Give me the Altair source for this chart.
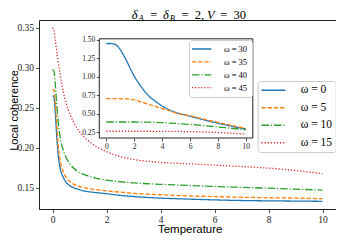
import altair as alt
import pandas as pd

# ---------------- data ----------------
T_MAIN = [0.0, 0.05, 0.1, 0.15, 0.2, 0.3, 0.4, 0.5, 0.6, 0.75, 1.0, 1.25, 1.5,
          1.75, 2.0, 2.5, 3.0, 4.0, 5.0, 6.0, 7.0, 8.0, 9.0, 10.0]
COH_W0 = [0.2645, 0.2645, 0.245, 0.218, 0.195, 0.172, 0.163, 0.157, 0.1535, 0.1505,
          0.1475, 0.1455, 0.1443, 0.1434, 0.1425, 0.1405, 0.139, 0.137, 0.1358,
          0.1348, 0.134, 0.1336, 0.1333, 0.133]
COH_W5 = [0.2725, 0.2725, 0.256, 0.233, 0.207, 0.181, 0.170, 0.163, 0.159, 0.155,
          0.1515, 0.1495, 0.148, 0.147, 0.146, 0.1445, 0.143, 0.1412, 0.1398,
          0.1389, 0.1381, 0.1375, 0.137, 0.1363]
COH_W10 = [0.297, 0.297, 0.280, 0.258, 0.236, 0.210, 0.197, 0.188, 0.182, 0.1755,
           0.169, 0.1655, 0.163, 0.1608, 0.1595, 0.1575, 0.156, 0.1543, 0.1528,
           0.1516, 0.1505, 0.1494, 0.1482, 0.147]
COH_W15 = [0.350, 0.347, 0.335, 0.323, 0.310, 0.288, 0.270, 0.256, 0.246, 0.234,
           0.220, 0.211, 0.204, 0.199, 0.195, 0.189, 0.1853, 0.1818, 0.180,
           0.1782, 0.1765, 0.1745, 0.1715, 0.1675]

T_INSET = [0.0, 0.25, 0.5, 0.75, 1.0, 1.25, 1.5, 1.75, 2.0, 2.5, 3.0, 3.5, 4.0,
           4.5, 5.0, 6.0, 7.0, 8.0, 9.0, 10.0]
COH_W30 = [1.452, 1.452, 1.448, 1.425, 1.37, 1.29, 1.20, 1.10, 1.01, 0.866, 0.748,
           0.671, 0.603, 0.553, 0.515, 0.466, 0.416, 0.370, 0.328, 0.290]
COH_W35 = [0.703, 0.703, 0.703, 0.703, 0.702, 0.701, 0.699, 0.695, 0.687, 0.660,
           0.627, 0.600, 0.567, 0.540, 0.510, 0.470, 0.425, 0.381, 0.339, 0.299]
COH_W40 = [0.386, 0.386, 0.386, 0.386, 0.386, 0.386, 0.386, 0.386, 0.386, 0.385,
           0.385, 0.383, 0.378, 0.372, 0.366, 0.354, 0.337, 0.318, 0.300, 0.281]
COH_W45 = [0.261, 0.261, 0.261, 0.261, 0.261, 0.261, 0.261, 0.261, 0.261, 0.261,
           0.261, 0.260, 0.260, 0.260, 0.259, 0.256, 0.251, 0.244, 0.234, 0.222]

MAIN_LABELS = ["ω = 0", "ω = 5", "ω = 10", "ω = 15"]
INSET_LABELS = ["ω = 30", "ω = 35", "ω = 40", "ω = 45"]
X_TICKS = [0, 2, 4, 6, 8, 10]
Y_TICKS_MAIN = [0.15, 0.20, 0.25, 0.30, 0.35]
Y_TICKS_INSET = [0.25, 0.50, 0.75, 1.00, 1.25, 1.50]

COLORS = ["#1f77b4", "#ff7f0e", "#2ca02c", "#d62728"]
DASHES = [[1, 0], [4.3, 1.9], [7.5, 1.9, 1.2, 1.9], [1.2, 1.9]]


def long_table(t, series, labels):
    rows = []
    for lab, vals in zip(labels, series):
        for tt, v in zip(t, vals):
            rows.append({"T": tt, "C": v, "w": lab})
    return pd.DataFrame(rows)


df_main = long_table(T_MAIN, [COH_W0, COH_W5, COH_W10, COH_W15], MAIN_LABELS)
df_inset = long_table(T_INSET, [COH_W30, COH_W35, COH_W40, COH_W45], INSET_LABELS)

# ---------------- layout ----------------
W, H = 297, 189
SERIF = "Liberation Serif"
SANS = "Liberation Sans"
INK = "#222222"

# inset geometry (pixels inside the plot area)
IX0, IX1 = 60.3, 213.8
IY_BOT, IY_TOP = 118.0, 18.8

main_legend = alt.Legend(
    title=None, orient="none", legendX=218.7, legendY=61,
    fillColor="white", strokeColor="#cccccc", cornerRadius=3, padding=3.5,
    labelFont=SERIF, labelFontSize=11.5, labelColor="black",
    symbolType="M-2.667,0L2.667,0", symbolSize=81, symbolStrokeWidth=1.4,
    symbolOffset=6.5, labelOffset=21.5, rowPadding=4.5,
)
inset_legend = alt.Legend(
    title=None, orient="none", legendX=150, legendY=20,
    fillColor="white", strokeColor="#cccccc", cornerRadius=3, padding=4.5,
    labelFont=SERIF, labelFontSize=8.5, labelColor="black",
    symbolType="M-2.757,0L2.757,0", symbolSize=49, symbolStrokeWidth=1.3,
    symbolOffset=3.65, labelOffset=17.8, rowPadding=3.9,
)

main = alt.Chart(df_main).mark_line(strokeWidth=1.3, interpolate="monotone").encode(
    x=alt.X("T:Q",
            scale=alt.Scale(domain=[-0.5, 10.5], nice=False, zero=False),
            axis=alt.Axis(values=X_TICKS, format="d", domain=False, grid=False,
                          labelFont=SERIF, labelFontSize=9.5, labelColor=INK,
                          tickColor=INK, tickSize=3.5, tickWidth=0.8, labelPadding=1.5,
                          title="Temperature", titleFont=SANS, titleFontSize=11.5,
                          titleFontWeight="normal", titleColor="black",
                          titleX=150.7, titleY=23.5, titleAlign="center",
                          titleBaseline="alphabetic")),
    y=alt.Y("C:Q",
            scale=alt.Scale(domain=[0.1234, 0.3596], nice=False, zero=False),
            axis=alt.Axis(values=Y_TICKS_MAIN, format=".2f", domain=False, grid=False,
                          labelFont=SERIF, labelFontSize=9.5, labelColor=INK,
                          tickColor=INK, tickSize=3.5, tickWidth=0.8, labelPadding=2,
                          title="Local coherence", titleFont=SANS, titleFontSize=11,
                          titleFontWeight="normal", titleColor="black",
                          titleX=-22, titleY=90, titleAlign="center",
                          titleBaseline="alphabetic")),
    color=alt.Color("w:N", scale=alt.Scale(domain=MAIN_LABELS, range=COLORS),
                    legend=main_legend),
    strokeDash=alt.StrokeDash("w:N", scale=alt.Scale(domain=MAIN_LABELS, range=DASHES),
                              legend=main_legend),
)

inset_box = alt.Chart(alt.Data(values=[{"a": 1}])).mark_rect(
    fill="white", stroke=INK, strokeWidth=1
).encode(x=alt.value(IX0), x2=alt.value(IX1), y=alt.value(IY_TOP), y2=alt.value(IY_BOT))

inset = alt.Chart(df_inset).mark_line(strokeWidth=1.3, interpolate="monotone").encode(
    x=alt.X("T:Q",
            scale=alt.Scale(domain=[-0.5, 10.5], range=[IX0, IX1], nice=False, zero=False),
            axis=alt.Axis(values=X_TICKS, format="d", domain=False, grid=False,
                          orient="bottom", offset=-(H - IY_BOT), zindex=1,
                          labelFont=SERIF, labelFontSize=7.5, labelColor=INK,
                          tickColor=INK, tickSize=3, tickWidth=0.8, labelPadding=1.5,
                          title=None)),
    y=alt.Y("C:Q",
            scale=alt.Scale(domain=[0.169, 1.516], range=[IY_BOT, IY_TOP], nice=False,
                            zero=False),
            axis=alt.Axis(values=Y_TICKS_INSET, format=".2f", domain=False, grid=False,
                          orient="left", offset=-IX0, zindex=1,
                          labelFont=SERIF, labelFontSize=7.5, labelColor=INK,
                          tickColor=INK, tickSize=3, tickWidth=0.8, labelPadding=1.5,
                          title=None)),
    color=alt.Color("w:N", scale=alt.Scale(domain=INSET_LABELS, range=COLORS),
                    legend=inset_legend),
    strokeDash=alt.StrokeDash("w:N", scale=alt.Scale(domain=INSET_LABELS, range=DASHES),
                              legend=inset_legend),
)

# ---------------- title: δ_A = δ_B = 2, V = 30 ----------------
TITLE_PARTS = [
    ("δ", 95.7, -1.5, 12.5, "italic"),
    ("A", 102.2, 1.0, 8.5, "italic"),
    ("=", 114.8, -1.5, 12.5, "normal"),
    ("δ", 126.8, -1.5, 12.5, "italic"),
    ("B", 133.4, 1.0, 8.5, "italic"),
    ("=", 146.0, -1.5, 12.5, "normal"),
    ("2,", 160.5, -1.5, 12.5, "normal"),
    ("V", 171.9, -1.5, 12.5, "italic"),
    ("=", 184.9, -1.5, 12.5, "normal"),
    ("30", 200.7, -1.5, 12.5, "normal"),
]
title_layers = []
for txt, px, py, fs, st in TITLE_PARTS:
    title_layers.append(
        alt.Chart(alt.Data(values=[{"a": 1}])).mark_text(
            text=txt, font=SERIF, fontSize=fs, fontStyle=st, align="center",
            baseline="alphabetic", color="black"
        ).encode(x=alt.value(px), y=alt.value(py))
    )

chart = alt.layer(main, inset_box, inset, *title_layers).resolve_scale(
    x="independent", y="independent", color="independent", strokeDash="independent"
).properties(
    width=W, height=H,
    autosize=alt.AutoSizeParams(type="none"),
    padding={"left": 31, "top": 12, "right": 0, "bottom": 26},
).configure_view(stroke=INK, strokeWidth=1)

chart.save("out.html", embed_options={"renderer": "svg", "actions": False})
